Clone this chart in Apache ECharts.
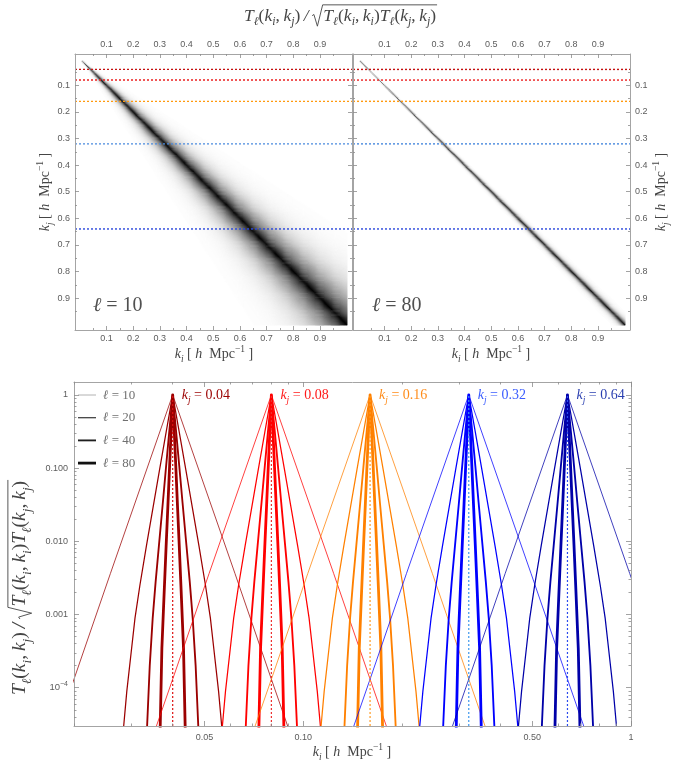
<!DOCTYPE html>
<html>
<head>
<meta charset="utf-8">
<script src="https://cdn.jsdelivr.net/npm/echarts@6.0.0/dist/echarts.min.js"></script>
<style>
html,body{margin:0;padding:0;background:#ffffff;}
#chart{width:674px;height:762px;}
</style>
</head>
<body>
<div id="chart"></div>
<script>
// ================= data =================
const kjValues = [0.04, 0.08, 0.16, 0.32, 0.64];
const kjLabels = ['0.04', '0.08', '0.16', '0.32', '0.64'];
const ellValues = [10, 20, 40, 80];

// correlation profile: offset |log10(ki/kj)|  ->  log10 of T/sqrt(TT)
const offsetL10 = [0, 0.19, 0.30, 0.40];
const logCorrL10 = [0, -2.44, -3.87, -5.16];
const offsetL20 = [0, 0.02, 0.04, 0.06, 0.08, 0.10, 0.115, 0.125, 0.14, 0.15, 0.165];
const logCorrL20 = [0, -0.51, -1.02, -1.54, -2.06, -2.6, -3.05, -3.45, -4.05, -4.55, -5.4];
const offsetL40 = [0, 0.01, 0.02, 0.03, 0.042, 0.052, 0.061, 0.07, 0.078, 0.086];
const logCorrL40 = [0, -0.48, -0.97, -1.47, -2.06, -2.55, -3.05, -3.7, -4.52, -5.5];
const offsetL80 = [0, 0.005, 0.01, 0.015, 0.02, 0.026, 0.033, 0.038, 0.042];
const logCorrL80 = [0, -0.52, -1.03, -1.55, -2.06, -2.7, -3.46, -4.52, -5.5];

// ticks and tick labels
const topTickValues = [0.1, 0.2, 0.3, 0.4, 0.5, 0.6, 0.7, 0.8, 0.9];
const topTickLabels = ['0.1', '0.2', '0.3', '0.4', '0.5', '0.6', '0.7', '0.8', '0.9'];
const topMinorTicks = [0.05, 0.15, 0.25, 0.35, 0.45, 0.55, 0.65, 0.75, 0.85, 0.95];
const kiTickValues = [0.05, 0.1, 0.5, 1];
const kiTickLabels = ['0.05', '0.10', '0.50', '1'];
const kiMinorTicks = [0.02, 0.03, 0.04, 0.06, 0.07, 0.08, 0.09, 0.2, 0.3, 0.4, 0.6, 0.7, 0.8, 0.9];
const corrTickValues = [1e-4, 1e-3, 1e-2, 0.1, 1];
const corrTickLabels = ['{b|10}{p|\u22124}', '0.001', '0.010', '0.100', '1'];
const corrMinorTicks = [4e-5, 5e-5, 6e-5, 7e-5, 8e-5, 9e-5,
  2e-4, 3e-4, 4e-4, 5e-4, 6e-4, 7e-4, 8e-4, 9e-4,
  2e-3, 3e-3, 4e-3, 5e-3, 6e-3, 7e-3, 8e-3, 9e-3,
  0.02, 0.03, 0.04, 0.05, 0.06, 0.07, 0.08, 0.09,
  0.2, 0.3, 0.4, 0.5, 0.6, 0.7, 0.8, 0.9];

// axis ranges
const kRangeTop = [-0.018, 1.02];
const kiRange = [0.02, 1];
const corrRange = [3e-5, 1.5];
const heatK0 = 0.01, heatK1 = 1, heatCells = 248, heatSub = 3;

// ================= styles =================
const SANS = '"Liberation Sans", "DejaVu Sans", Arial, sans-serif';
const SERIF = '"Liberation Serif", "DejaVu Serif", "Times New Roman", serif';
const frameColor = '#a4a4a4';
const tickColor = '#8c8c8c';
const labelColor = '#5c5c5c';
const textColor = '#454545';
const curveColors = ['#9b0000', '#ff0000', '#ff8000', '#0000ff', '#0000a8'];
const labelColors = ['#9b0000', '#ff1a1a', '#ff8c1a', '#3a5cff', '#2a3fb0'];
const dotColors = ['#dd1111', '#ee3030', '#ff9a22', '#3d97ee', '#2c4cee'];
const topLineColors = ['#c41010', '#ec2020', '#ff9a10', '#4a8ade', '#2a48dc'];
const ellWidths = [0.75, 1.25, 1.85, 2.8];
const legendColors = ['#9a9a9a', '#3c3c3c', '#1e1e1e', '#111111'];
const heatGrayStops = ['#ffffff', '#ababab', '#6d6d6d', '#343434', '#000000'];

const profiles = [
  {off: offsetL10, log: logCorrL10},
  {off: offsetL20, log: logCorrL20},
  {off: offsetL40, log: logCorrL40},
  {off: offsetL80, log: logCorrL80}
];

function profileAt(p, d) {
  const a = Math.abs(d), n = p.off.length;
  if (a >= p.off[n - 1]) return -Infinity;
  for (let i = 1; i < n; i++) {
    if (a <= p.off[i]) {
      const t = (a - p.off[i - 1]) / (p.off[i] - p.off[i - 1]);
      return p.log[i - 1] + t * (p.log[i] - p.log[i - 1]);
    }
  }
  return -Infinity;
}

function buildCurve(kj, p) {
  const pts = [];
  for (let i = p.off.length - 1; i >= 1; i--) pts.push([kj * Math.pow(10, -p.off[i]), Math.pow(10, p.log[i])]);
  pts.push([kj, 1]);
  for (let i = 1; i < p.off.length; i++) pts.push([kj * Math.pow(10, p.off[i]), Math.pow(10, p.log[i])]);
  return pts;
}

// cell colour value = mean correlation over the cell area (3x3 samples)
const heatStep = (heatK1 - heatK0) / heatCells;
function buildHeat(p) {
  const data = [];
  for (let j = 0; j <= heatCells; j++) {
    const kj = heatK0 + j * heatStep;
    for (let i = 0; i <= heatCells; i++) {
      const ki = heatK0 + i * heatStep;
      if (profileAt(p, Math.log10(ki / kj)) < -3.2 && Math.abs(ki - kj) > 1.5 * heatStep) continue;
      let sum = 0;
      for (let a = 0; a < heatSub; a++) {
        for (let b = 0; b < heatSub; b++) {
          const x = ki + ((a + 0.5) / heatSub - 0.5) * heatStep;
          const y = kj + ((b + 0.5) / heatSub - 0.5) * heatStep;
          const L = profileAt(p, Math.log10(x / y));
          if (L > -Infinity) sum += Math.pow(10, L);
        }
      }
      const v = sum / (heatSub * heatSub);
      if (v > 0.004) data.push([ki, kj, v]);
    }
  }
  return data;
}

function nearestIdx(arr, v) {
  let best = 0, bd = Infinity;
  arr.forEach((t, i) => { const d = Math.abs(Math.log(Math.abs(v) + 1e-12) - Math.log(Math.abs(t) + 1e-12)); if (d < bd) { bd = d; best = i; } });
  return best;
}

function axisCfg(o) {
  const cfg = {
    type: o.type, gridIndex: o.grid, position: o.pos, min: o.min, max: o.max,
    inverse: !!o.inverse, z: 10, silent: true,
    axisLine: {show: !!o.line, onZero: false, lineStyle: {color: frameColor, width: 1}},
    axisTick: {show: true, inside: true, length: o.len, customValues: o.ticks, lineStyle: {color: tickColor, width: 0.8}},
    axisLabel: {show: false},
    splitLine: {show: false}, minorTick: {show: false}, minorSplitLine: {show: false}, splitArea: {show: false}
  };
  if (o.type === 'log') cfg.logBase = 10;
  if (o.labels) {
    cfg.axisLabel = {
      show: true, customValues: o.ticks, margin: o.margin, color: labelColor, fontSize: 9, fontFamily: SANS,
      formatter: v => o.labels[nearestIdx(o.ticks, v)],
      rich: {
        b: {fontSize: 9.5, color: labelColor, fontFamily: SANS, lineHeight: 14},
        p: {fontSize: 7, color: labelColor, fontFamily: SANS, verticalAlign: 'top', lineHeight: 8}
      }
    };
  }
  return cfg;
}

const xAxes = [], yAxes = [];
[0, 1].forEach(g => {
  const base = {type: 'value', grid: g, min: kRangeTop[0], max: kRangeTop[1]};
  xAxes.push(axisCfg(Object.assign({}, base, {pos: 'bottom', line: true, ticks: topTickValues, len: 4, labels: topTickLabels, margin: 4})));
  xAxes.push(axisCfg(Object.assign({}, base, {pos: 'bottom', ticks: topMinorTicks, len: 2})));
  xAxes.push(axisCfg(Object.assign({}, base, {pos: 'top', line: true, ticks: topTickValues, len: 4, labels: topTickLabels, margin: 5})));
  xAxes.push(axisCfg(Object.assign({}, base, {pos: 'top', ticks: topMinorTicks, len: 2})));
  const ybase = Object.assign({}, base, {inverse: true});
  yAxes.push(axisCfg(Object.assign({}, ybase, {pos: 'left', line: true, ticks: topTickValues, len: 4, labels: g === 0 ? topTickLabels : null, margin: 5})));
  yAxes.push(axisCfg(Object.assign({}, ybase, {pos: 'left', ticks: topMinorTicks, len: 2})));
  yAxes.push(axisCfg(Object.assign({}, ybase, {pos: 'right', line: true, ticks: topTickValues, len: 4, labels: g === 1 ? topTickLabels : null, margin: 5})));
  yAxes.push(axisCfg(Object.assign({}, ybase, {pos: 'right', ticks: topMinorTicks, len: 2})));
});
{
  const xb = {type: 'log', grid: 2, min: kiRange[0], max: kiRange[1]};
  xAxes.push(axisCfg(Object.assign({}, xb, {pos: 'bottom', line: true, ticks: kiTickValues, len: 5, labels: kiTickLabels, margin: 7})));
  xAxes.push(axisCfg(Object.assign({}, xb, {pos: 'bottom', ticks: kiMinorTicks, len: 2.5})));
  xAxes.push(axisCfg(Object.assign({}, xb, {pos: 'top', line: true, ticks: kiTickValues, len: 5})));
  xAxes.push(axisCfg(Object.assign({}, xb, {pos: 'top', ticks: kiMinorTicks, len: 2.5})));
  const yb = {type: 'log', grid: 2, min: corrRange[0], max: corrRange[1]};
  yAxes.push(axisCfg(Object.assign({}, yb, {pos: 'left', line: true, ticks: corrTickValues, len: 5, labels: corrTickLabels, margin: 6})));
  yAxes.push(axisCfg(Object.assign({}, yb, {pos: 'left', ticks: corrMinorTicks, len: 2.5})));
  yAxes.push(axisCfg(Object.assign({}, yb, {pos: 'right', line: true, ticks: corrTickValues, len: 5})));
  yAxes.push(axisCfg(Object.assign({}, yb, {pos: 'right', ticks: corrMinorTicks, len: 2.5})));
}

function renderHeatCell(params, api) {
  const c = api.coord([api.value(0), api.value(1)]);
  const s = api.size([heatStep, heatStep]);
  const w = Math.abs(s[0]) + 0.4, h = Math.abs(s[1]) + 0.4;
  return {type: 'rect', shape: {x: c[0] - w / 2, y: c[1] - h / 2, width: w, height: h}, style: {fill: api.visual('color')}};
}

const series = [];
const heatIdx = [];
[[0, profiles[0]], [1, profiles[3]]].forEach(([g, p]) => {
  heatIdx.push(series.length);
  series.push({
    type: 'custom', xAxisIndex: g * 4, yAxisIndex: g * 4, data: buildHeat(p),
    dimensions: ['ki', 'kj', 'corr'], encode: {x: 0, y: 1},
    renderItem: renderHeatCell, silent: true, z: 1, progressive: 0, animation: false
  });
  kjValues.forEach((kj, c) => {
    series.push({
      type: 'line', xAxisIndex: g * 4, yAxisIndex: g * 4,
      data: [[kRangeTop[0], kj], [kRangeTop[1], kj]],
      symbol: 'none', silent: true, z: 3,
      lineStyle: {color: topLineColors[c], width: 1.4, type: [2, 2]}
    });
  });
});

kjValues.forEach((kj, c) => {
  profiles.forEach((p, e) => {
    series.push({
      type: 'line', xAxisIndex: 8, yAxisIndex: 8, data: buildCurve(kj, p),
      symbol: 'none', showSymbol: false, clip: true, silent: true, z: 2,
      lineStyle: {color: curveColors[c], width: ellWidths[e], join: 'round', cap: 'butt'}
    });
  });
});
const dotIdx = [];
kjValues.forEach((kj, c) => {
  dotIdx.push(series.length);
  series.push({
    type: 'line', xAxisIndex: 8, yAxisIndex: 8, data: [[kj, corrRange[0]], [kj, 1]],
    symbol: 'none', clip: true, silent: true, z: 3,
    lineStyle: {color: dotColors[c], width: 1.2, type: [2, 2]}
  });
});

const option = {
  animation: false,
  backgroundColor: '#ffffff',
  textStyle: {fontFamily: SANS},
  grid: [
    {left: 75, top: 54, width: 277, height: 276, containLabel: false, outerBoundsMode: 'none'},
    {left: 353, top: 54, width: 277, height: 276, containLabel: false, outerBoundsMode: 'none'},
    {left: 74, top: 382, width: 557, height: 344, containLabel: false, outerBoundsMode: 'none'}
  ],
  xAxis: xAxes,
  yAxis: yAxes,
  visualMap: [{
    type: 'continuous', show: false, seriesIndex: heatIdx, dimension: 2, min: 0, max: 1,
    inRange: {color: heatGrayStops}
  }],
  series: series
};

const chart = echarts.init(document.getElementById('chart'), null, {renderer: 'canvas', width: 674, height: 762});
chart.setOption(option);

// ================= math text (typeset from measured glyph widths) =================
const mctx = document.createElement('canvas').getContext('2d');
function fontStr(sz, it) { return (it ? 'italic ' : '') + sz.toFixed(2) + 'px ' + SERIF; }
function measure(s, sz, it) { mctx.font = fontStr(sz, it); return mctx.measureText(s).width; }
function M(str, S, ov) {
  const out = [];
  for (let i = 0; i < str.length; i++) {
    const ch = str[i];
    if (ch === '_') { out.push({s: str[i + 1], sz: S * 0.68, it: true, dy: S * 0.24, ov}); i++; continue; }
    out.push({s: ch, sz: S, it: /[A-Za-z\u2113]/.test(ch), ov});
  }
  return out;
}
function typeset(tokens, color, align) {
  let x = 0, ovB = null, radX = null, radS = 0;
  const placed = [];
  tokens.forEach(t => {
    if (t.rad) { radX = x; radS = t.sz; x += t.sz * 0.64; return; }
    const w = measure(t.s, t.sz, t.it);
    placed.push({t, x});
    if (t.ov) ovB = x + w;
    x += w + (t.kern || 0);
  });
  const off = align === 'center' ? -x / 2 : 0;
  const children = placed.map(p => ({
    type: 'text', x: p.x + off, y: (p.t.dy || 0) - 0.34 * p.t.sz,
    style: {text: p.t.s, font: fontStr(p.t.sz, p.t.it), fill: color,
      align: 'left', verticalAlign: 'middle', textAlign: 'left', textVerticalAlign: 'middle'}
  }));
  if (radX !== null) {
    const S = radS, x0 = radX + off, top = -0.98 * S;
    children.push({type: 'polyline', shape: {points: [[x0, -0.36 * S], [x0 + 0.1 * S, -0.43 * S], [x0 + 0.3 * S, 0.24 * S], [x0 + 0.6 * S, top], [ovB + off + 1, top]]},
      style: {stroke: color, lineWidth: 0.9, fill: 'none'}});
  }
  return children;
}
function mathGroup(tokens, x, y, color, rotation, align) {
  return {type: 'group', x, y, rotation: rotation || 0, z: 100, silent: true, children: typeset(tokens, color, align)};
}
function corrTokens(S) {
  return [].concat(M('T_\u2113(k_i,\u2009k_j)', S), [{s: '\u2009/\u2009', sz: S, it: true}, {rad: true, sz: S}],
    M('T_\u2113(k_i,\u2009k_i)T_\u2113(k_j,\u2009k_j)', S, true));
}
function kTitle(sub, S) {
  return [].concat(M('k_' + sub, S), [{s: ' [ ', sz: S}, {s: 'h', sz: S, it: true}, {s: '  Mpc', sz: S},
    {s: '\u22121', sz: S * 0.68, dy: -S * 0.42}, {s: ' ]', sz: S}]);
}

const gfx = [];
gfx.push(mathGroup(corrTokens(17.5), 340, 22, textColor, 0, 'center'));
gfx.push(mathGroup(kTitle('i', 14), 214, 359, textColor, 0, 'center'));
gfx.push(mathGroup(kTitle('i', 14), 491, 359, textColor, 0, 'center'));
gfx.push(mathGroup(kTitle('j', 14), 50, 192, textColor, Math.PI / 2, 'center'));
gfx.push(mathGroup(kTitle('j', 14), 666, 192, textColor, Math.PI / 2, 'center'));
gfx.push(mathGroup([{s: '\u2113', sz: 20, it: true}, {s: ' = ' + ellValues[0], sz: 20}], 93, 313, '#505050', 0, 'left'));
gfx.push(mathGroup([{s: '\u2113', sz: 20, it: true}, {s: ' = ' + ellValues[3], sz: 20}], 372, 313, '#505050', 0, 'left'));
gfx.push(mathGroup(kTitle('i', 14), 352, 757, textColor, 0, 'center'));
gfx.push(mathGroup(corrTokens(19.5), 27, 588, textColor, Math.PI / 2, 'center'));

kjValues.forEach((kj, c) => {
  const p = chart.convertToPixel({seriesIndex: dotIdx[c]}, [kj, 1]);
  gfx.push(mathGroup([].concat(M('k_j', 14), [{s: ' = ' + kjLabels[c], sz: 14}]), p[0] + 9, p[1] + 5, labelColors[c], 0, 'left'));
});
ellValues.forEach((ell, e) => {
  const y = 395 + e * 22.7;
  gfx.push({type: 'line', z: 100, silent: true, shape: {x1: 78, y1: y, x2: 96, y2: y}, style: {stroke: legendColors[e], lineWidth: ellWidths[e]}});
  gfx.push(mathGroup([{s: '\u2113', sz: 13, it: true}, {s: ' = ' + ell, sz: 13}], 103, y + 4.5, '#707070', 0, 'left'));
});
chart.setOption({graphic: {elements: gfx}});
</script>
</body>
</html>
